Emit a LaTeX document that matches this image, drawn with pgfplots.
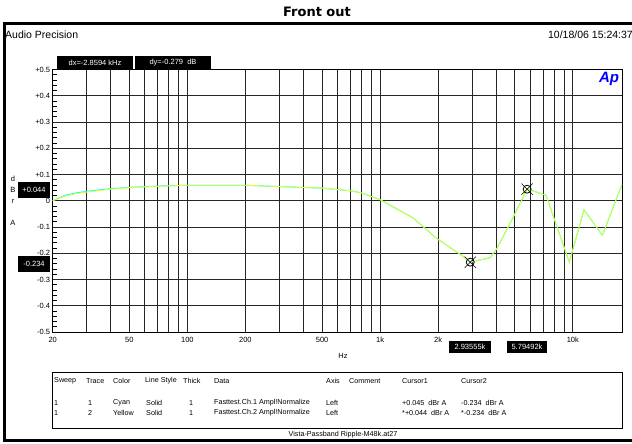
\documentclass[border=0pt]{standalone}
\usepackage{pgfplots}
\pgfplotsset{compat=1.18}
\usepackage{fontspec}
\setmainfont{Liberation Sans}
\newfontfamily\titlefont{DejaVu Sans}
\definecolor{trcyan}{rgb}{0,1,1}
\definecolor{tryel}{rgb}{0.85,1,0.2}
\begin{document}
\begin{tikzpicture}
\useasboundingbox (0pt,0pt) rectangle (632pt,444pt);
\fill[white] (0pt,0pt) rectangle (632pt,444pt);
\begin{axis}[at={(52.7pt,112pt)}, anchor=south west, scale only axis,
  width=569.3pt, height=262.5pt,
  xmode=log, xmin=20, xmax=18000, ymin=-0.5, ymax=0.5,
  /pgf/number format/assume math mode=true,
  xtick={20,50,100,200,500,1000,2000,5000,10000},
  xticklabels={20,50,100,200,500,1k,2k,{},10k},
  minor xtick={30,40,60,70,80,90,300,400,600,700,800,900,3000,4000,6000,7000,8000,9000},
  ytick={-0.5,-0.4,-0.3,-0.2,-0.1,0,0.1,0.2,0.3,0.4,0.5},
  yticklabels={-0.5,-0.4,-0.3,-0.2,-0.1,0,+0.1,+0.2,+0.3,+0.4,+0.5},
  minor ytick={-0.48,-0.46,-0.44,-0.42,-0.38,-0.36,-0.34,-0.32,-0.28,-0.26,-0.24,-0.22,-0.18,-0.16,-0.14,-0.12,-0.08,-0.06,-0.04,-0.02,0.02,0.04,0.06,0.08,0.12,0.14,0.16,0.18,0.22,0.24,0.26,0.28,0.32,0.34,0.36,0.38,0.42,0.44,0.46,0.48},
  xmajorgrids, xminorgrids, ymajorgrids,
  major grid style={black!85, line width=0.7pt},
  minor grid style={black!85, line width=0.7pt},
  tick align=inside, ytick pos=left, xtick pos=bottom,
  major tick length=0pt, minor tick length=4pt,
  xtick style={draw=none}, minor x tick style={draw=none},
  ytick style={black, line width=0.5pt},
  tick label style={font=\fontsize{7.5}{8}\selectfont},
  y tick label style={xshift=1pt},
  x tick label style={yshift=-1.5pt},
  axis line style={black, line width=0.8pt},
]
\addplot[trcyan, line width=0.9pt] coordinates {
(20,0.000) (23,0.020) (26,0.029) (30,0.036) (40,0.046) (50,0.051) (70,0.056) (100,0.059) (200,0.059) (300,0.054) (500,0.048) (700,0.038) (800,0.030) (1000,0.004) (1480,-0.065) (1970,-0.144) (2650,-0.208) (2936,-0.234) (3720,-0.217) (4030,-0.183) (4910,-0.062) (5795,0.045) (7260,0.021) (9590,-0.234) (11430,-0.034) (14230,-0.132) (18000,0.062)};
\addplot[tryel, line width=0.9pt] coordinates {
(20,0.000) (23,0.017) (26,0.026) (30,0.033) (40,0.044) (50,0.050) (70,0.055) (100,0.059) (200,0.059) (300,0.054) (500,0.048) (700,0.038) (800,0.030) (1000,0.004) (1480,-0.065) (1970,-0.144) (2650,-0.208) (2936,-0.234) (3720,-0.217) (4030,-0.183) (4910,-0.062) (5795,0.044) (7260,0.021) (9590,-0.234) (11430,-0.034) (14230,-0.132) (18000,0.062)};
\addplot[only marks, mark=x, mark size=8pt, mark options={black, line width=0.5pt}] coordinates {(2935.55,-0.234) (5794.92,0.044)};
\addplot[only marks, mark=o, mark size=4pt, mark options={black, line width=0.8pt}] coordinates {(2935.55,-0.234) (5794.92,0.044)};
\end{axis}
\begin{scope}[x=1pt,y=1pt]
\node[font=\titlefont\bfseries\fontsize{13}{15}\selectfont] at (317,432) {Front out};
\draw[line width=3pt] (4.5,3.5) rectangle (645,420.5);
\node[anchor=west, inner sep=0pt, font=\fontsize{10.5}{12}\selectfont] at (5,409) {Audio Precision};
\node[anchor=east, inner sep=0pt, font=\fontsize{10.5}{12}\selectfont] at (633,409) {10/18/06 15:24:37};
% cursor readout boxes
\tikzset{bx/.style={fill=black, text=white, inner sep=0pt, font=\fontsize{7.5}{8}\selectfont}}
\node[bx, minimum width=76pt, minimum height=13pt] at (95,381.5) {dx=-2.8594 kHz};
\node[bx, minimum width=76pt, minimum height=13pt] at (173,381.5) {dy=-0.279\ \ dB};
\node[bx, minimum width=32pt, minimum height=16pt] at (34,254) {+0.044};
\node[bx, minimum width=32pt, minimum height=16pt] at (34,180) {-0.234};
\node[bx, minimum width=42pt, minimum height=12pt] at (470,97) {2.93555k};
\node[bx, minimum width=40pt, minimum height=12pt] at (527,97) {5.79492k};
% Ap logo
\node[text=blue, inner sep=0pt, font=\bfseries\itshape\fontsize{15}{15}\selectfont] at (609,365) {Ap};
% axis labels
\node[font=\fontsize{7.5}{8}\selectfont] at (343,88) {Hz};
\foreach \l/\yy in {d/265,B/254,r/243,A/221} \node[font=\fontsize{7.5}{8}\selectfont, inner sep=0pt] at (13,\yy) {\l};
% legend table
\draw[black, line width=0.6pt] (52.7,16) rectangle (622,72);
\tikzset{tt/.style={anchor=west, inner sep=0pt, font=\fontsize{7.2}{8}\selectfont}}
\foreach \x/\t in {54/Sweep,86/Trace,113/Color,145/Line Style,183/Thick,214/Data,326/Axis,349/Comment,402/Cursor1,461/Cursor2}
  \node[tt] at (\x,63) {\t};
\foreach \x/\t in {54/1,88/1,113/Cyan,146/Solid,189/1,214/Fasttest.Ch.1 Ampl!Normalize,326/Left,402/+0.045\ \ dBr A,461/-0.234\ \ dBr A}
  \node[tt] at (\x,41) {\t};
\foreach \x/\t in {54/1,88/2,113/Yellow,146/Solid,189/1,214/Fasttest.Ch.2 Ampl!Normalize,326/Left,402/*+0.044\ \ dBr A,461/*-0.234\ \ dBr A}
  \node[tt] at (\x,31) {\t};
\node[font=\fontsize{7.2}{8}\selectfont] at (343,9) {Vista-Passband Ripple-M48k.at27};
\end{scope}
\end{tikzpicture}
\end{document}
